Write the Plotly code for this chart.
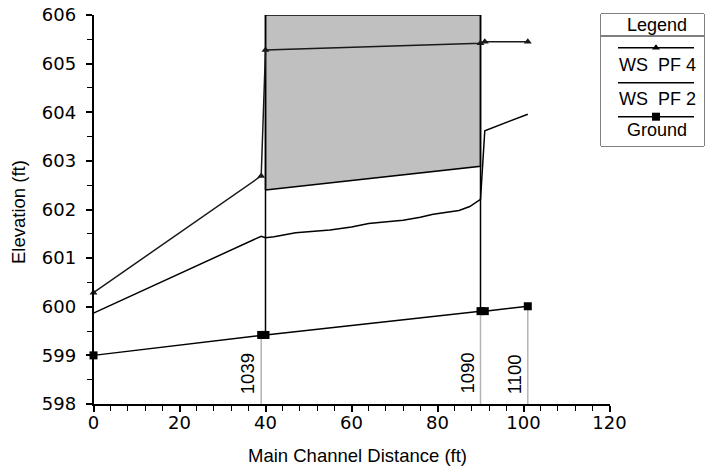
import plotly.graph_objects as go

# ---------------- data ----------------
ws_pf4_x = [0, 39, 40, 90, 91, 101]
ws_pf4_y = [600.29, 602.69, 605.28, 605.42, 605.45, 605.45]

ws_pf2_x = [0, 39, 40, 42, 47, 55, 60, 64, 67, 72, 76, 79, 85, 87.5, 90, 91, 101]
ws_pf2_y = [599.87, 601.45, 601.42, 601.44, 601.52, 601.58, 601.64, 601.71, 601.74,
            601.78, 601.84, 601.90, 601.98, 602.06, 602.21, 603.62, 603.96]

ground_x = [0, 39, 40, 90, 91, 101]
ground_y = [599.0, 599.42, 599.42, 599.91, 599.91, 600.01]

culvert_x = [40, 90]
culvert_low_chord = [602.40, 602.89]
culvert_high_chord = [606.0, 606.0]
culvert_invert = [599.42, 599.91]

station_x = [39, 90, 101]
station_ground = [599.42, 599.91, 600.01]
station_labels = ["1039", "1090", "1100"]

x_range = [0, 120]
y_range = [598, 606]

FONT = "Arial, Liberation Sans, sans-serif"
TICKFONT = "DejaVu Sans, sans-serif"

# page body margin is removed by post_script, so screen px == figure px
W, H = 706, 467


def px_x(sx):
    return sx / W


def px_y(sy):
    return 1 - sy / H


fig = go.Figure()

# deck fill between low chord and high chord
fig.add_trace(go.Scatter(
    x=[culvert_x[0], culvert_x[0], culvert_x[1], culvert_x[1], culvert_x[0]],
    y=[culvert_low_chord[0], culvert_high_chord[0], culvert_high_chord[1], culvert_low_chord[1], culvert_low_chord[0]],
    mode="lines", fill="toself", fillcolor="#c0c0c0",
    line=dict(color="#000000", width=1.5), hoverinfo="skip", showlegend=False))

# culvert faces (vertical lines)
for cx, inv, hc in zip(culvert_x, culvert_invert, culvert_high_chord):
    fig.add_trace(go.Scatter(x=[cx, cx], y=[inv, hc], mode="lines",
                             line=dict(color="#000000", width=1.5),
                             hoverinfo="skip", showlegend=False))

# station reference lines
for sx, sg, lab in zip(station_x, station_ground, station_labels):
    fig.add_trace(go.Scatter(x=[sx, sx], y=[y_range[0], sg], mode="lines",
                             line=dict(color="#b4b4b4", width=1.5),
                             hoverinfo="skip", showlegend=False))
    fig.add_annotation(x=sx, y=y_range[0], xref="x", yref="y", text=lab,
                       textangle=-90, showarrow=False, xanchor="right", yanchor="bottom",
                       xshift=-1, yshift=8, font=dict(family=FONT, size=18.5, color="#000"))

fig.add_trace(go.Scatter(x=ws_pf2_x, y=ws_pf2_y, mode="lines",
                         line=dict(color="#000000", width=1.5), name="WS  PF 2"))
fig.add_trace(go.Scatter(x=ws_pf4_x, y=ws_pf4_y, mode="lines+markers",
                         line=dict(color="#1a1a1a", width=1.5),
                         marker=dict(symbol="triangle-up", size=7, color="#1a1a1a"),
                         name="WS  PF 4", cliponaxis=False))
fig.add_trace(go.Scatter(x=ground_x, y=ground_y, mode="lines+markers",
                         line=dict(color="#000000", width=1.5),
                         marker=dict(symbol="square", size=8, color="#000000"),
                         name="Ground", cliponaxis=False))

# ---------------- custom legend (screen pixel coords on overlay axes) ----------------
LX0, LX1, LY0, LY1 = 601, 704, 14, 146
fig.add_shape(type="rect", xref="paper", yref="paper",
              x0=px_x(LX0), x1=px_x(LX1), y0=px_y(LY1), y1=px_y(LY0),
              line=dict(color="#000", width=1), fillcolor="white", layer="below")
fig.add_shape(type="line", xref="paper", yref="paper",
              x0=px_x(LX0), x1=px_x(LX1), y0=px_y(36), y1=px_y(36),
              line=dict(color="#000", width=1))

leg_items = [("WS\u00a0\u00a0PF 4", 47.7, 65, "triangle-up", 7),
             ("WS\u00a0\u00a0PF 2", 82.7, 99.3, None, 0),
             ("Ground", 116.7, 130, "square", 8)]
for name, ly, ty, sym, sz in leg_items:
    fig.add_trace(go.Scatter(x=[618, 694], y=[ly, ly], xaxis="x2", yaxis="y2",
                             mode="lines", line=dict(color="#000", width=1.5),
                             hoverinfo="skip", showlegend=False))
    if sym:
        fig.add_trace(go.Scatter(x=[656], y=[ly], xaxis="x2", yaxis="y2", mode="markers",
                                 marker=dict(symbol=sym, size=sz, color="#000"),
                                 hoverinfo="skip", showlegend=False))
    fig.add_annotation(x=657, y=ty, xref="x2", yref="y2", text=name, showarrow=False,
                       xanchor="center", yanchor="middle",
                       font=dict(family=FONT, size=18, color="#000"))
fig.add_annotation(x=px_x(657), y=px_y(25), xref="paper", yref="paper",
                   xanchor="center", yanchor="middle",
                   text="Legend", showarrow=False, font=dict(family=FONT, size=18, color="#000"))

# axis titles
fig.add_annotation(x=px_x(358), y=px_y(455), xref="paper", yref="paper",
                   xanchor="center", yanchor="middle",
                   text="Main Channel Distance (ft)", showarrow=False,
                   font=dict(family=FONT, size=18.5, color="#000"))
fig.add_annotation(x=px_x(18), y=px_y(212), xref="paper", yref="paper",
                   xanchor="center", yanchor="middle",
                   text="Elevation (ft)", showarrow=False, textangle=-90,
                   font=dict(family=FONT, size=18.5, color="#000"))

PL, PR, PT, PB = 93.5, 609.5, 15, 404
fig.update_layout(
    width=W, height=H, margin=dict(l=0, r=0, t=0, b=0),
    paper_bgcolor="white", plot_bgcolor="white", showlegend=False,
    font=dict(family=FONT, size=17, color="#000"),
    xaxis=dict(domain=[px_x(PL), px_x(PR)], range=x_range, dtick=20, tick0=0,
               showgrid=False, zeroline=False, showline=True, linecolor="#000", linewidth=1.5,
               ticks="outside", ticklen=6, tickcolor="#000", tickwidth=1.5,
               minor=dict(dtick=4, ticks="outside", ticklen=5, tickcolor="#000", tickwidth=1.2),
               tickfont=dict(family=TICKFONT, size=18), ticklabelstandoff=-4,
               ticklabeloverflow="allow", automargin=False, anchor="y"),
    yaxis=dict(domain=[px_y(PB), px_y(PT)], range=y_range, dtick=1,
               showgrid=False, zeroline=False, showline=True, linecolor="#000", linewidth=1.5,
               ticks="outside", ticklen=6, tickcolor="#000", tickwidth=1.5,
               minor=dict(dtick=0.5, ticks="outside", ticklen=5, tickcolor="#000", tickwidth=1.2),
               tickfont=dict(family=TICKFONT, size=18), ticklabelstandoff=6,
               ticklabeloverflow="allow", automargin=False, anchor="x"),
    xaxis2=dict(domain=[px_x(LX0), px_x(LX1)], range=[LX0, LX1], visible=False, anchor="y2",
                automargin=False),
    yaxis2=dict(domain=[px_y(LY1), px_y(LY0)], range=[LY1, LY0], visible=False, anchor="x2",
                automargin=False),
)

fig.write_html("out.html", config={"displayModeBar": False},
               post_script="document.body.style.margin='0';document.body.style.overflow='hidden';")
